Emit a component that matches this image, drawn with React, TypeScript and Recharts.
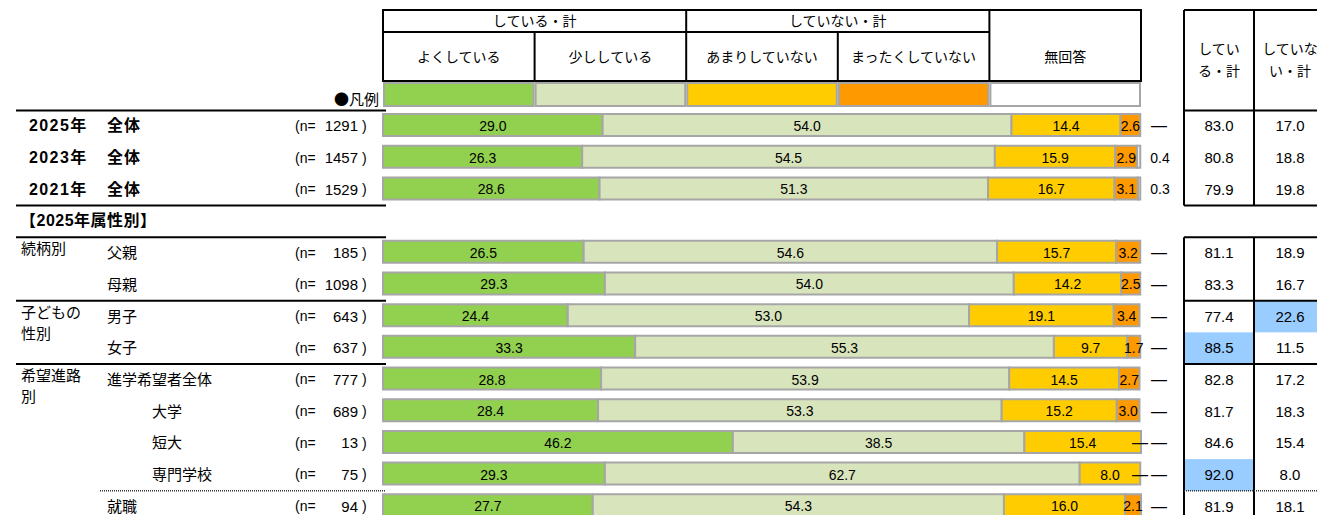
import React from "react";
import { Bar, BarChart, LabelList, XAxis, YAxis } from "recharts";

// rows: 3 overall years, a spacer row (section title), 9 attribute rows
const years = ["2025年", "2023年", "2021年", "", "", "", "", "", "", "", "", "", ""];
const subLabels = ["全体", "全体", "全体", "", "父親", "母親", "男子", "女子", "進学希望者全体", "大学", "短大", "専門学校", "就職"];
const indented = ["大学", "短大", "専門学校"];
const groupLabels: (string[] | null)[] = [null, null, null, null, ["続柄別"], null, ["子どもの", "性別"], null, ["希望進路", "別"], null, null, null, null];
const sectionTitle = "【2025年属性別】";
const sampleSizes = [1291, 1457, 1529, null, 185, 1098, 643, 637, 777, 689, 13, 75, 94];

const yoku = [29.0, 26.3, 28.6, null, 26.5, 29.3, 24.4, 33.3, 28.8, 28.4, 46.2, 29.3, 27.7];
const sukoshi = [54.0, 54.5, 51.3, null, 54.6, 54.0, 53.0, 55.3, 53.9, 53.3, 38.5, 62.7, 54.3];
const amari = [14.4, 15.9, 16.7, null, 15.7, 14.2, 19.1, 9.7, 14.5, 15.2, 15.4, 8.0, 16.0];
const mattaku = [2.6, 2.9, 3.1, null, 3.2, 2.5, 3.4, 1.7, 2.7, 3.0, 0, 0, 2.1];
const mukaitou = [0, 0.4, 0.3, null, 0, 0, 0, 0, 0, 0, 0, 0, 0];

const shiteiruTotal = [83.0, 80.8, 79.9, null, 81.1, 83.3, 77.4, 88.5, 82.8, 81.7, 84.6, 92.0, 81.9];
const shiteinaiTotal = [17.0, 18.8, 19.8, null, 18.9, 16.7, 22.6, 11.5, 17.2, 18.3, 15.4, 8.0, 18.1];
const hiShiteiru = ["女子", "専門学校"];
const hiShiteinai = ["男子"];

const seriesNames = ["よくしている", "少ししている", "あまりしていない", "まったくしていない", "無回答"];
const seriesKeys = ["yoku", "sukoshi", "amari", "mattaku", "mukaitou"];
const groupNames = ["している・計", "していない・計"];
const totalHeads = [["してい", "る・計"], ["していな", "い・計"]];

const COLORS = ["#92D050", "#D8E4BC", "#FFCC00", "#FF9900", "#FFFFFF"];
const BORDER = "#A6A6A6";
const HILITE = "#99CCFF";
const FONT = '"Liberation Sans", "Noto Sans CJK JP", sans-serif';

const W = 1317;
const H = 515;
const CHART_H = 521;
const TOP = 109;
const PL = 383;
const PR = 1141;
const PW = PR - PL;
const BAND = (CHART_H - TOP) / subLabels.length;
const rowTop = (i: number) => TOP + i * BAND + 1.5;
const colX = (i: number) => PL + (PW * i) / 5;
const T1 = 1184;
const T2 = 1254;

const data = subLabels.map((s, i) => ({
  id: String(i),
  yoku: yoku[i],
  sukoshi: sukoshi[i],
  amari: amari[i],
  mattaku: mattaku[i],
  mukaitou: mukaitou[i],
}));

function segLabel(p: any) {
  const { x, y, width, height, value } = p;
  if (value == null || value === 0) return null;
  return (
    <text x={x + width / 2} y={y + height / 2 + 1} textAnchor="middle" dominantBaseline="central" fontSize={14} fill="#000">
      {value.toFixed(1)}
    </text>
  );
}

function LeftTick({ y, payload }: any) {
  const i = Number(payload.value);
  const cy = y + 1;
  if (sampleSizes[i] == null) {
    return (
      <text x={20} y={cy} dominantBaseline="central" fontSize={16} fontWeight="bold" letterSpacing={0.5}>{sectionTitle}</text>
    );
  }
  const g = groupLabels[i];
  return (
    <g fontSize={15} fill="#000">
      {years[i] ? (
        <>
          <text x={29} y={cy} dominantBaseline="central" fontWeight="bold" fontSize={16} letterSpacing={1.4}>{years[i]}</text>
          <text x={107} y={cy} dominantBaseline="central" fontWeight="bold" fontSize={16} letterSpacing={1}>{subLabels[i]}</text>
        </>
      ) : (
        <text x={indented.includes(subLabels[i]) ? 152 : 107} y={cy} dominantBaseline="central">{subLabels[i]}</text>
      )}
      {g && g.map((t, k) => (
        <text key={k} x={21} y={cy - 4 + k * 21} dominantBaseline="central">{t}</text>
      ))}
      <text x={295} y={cy} dominantBaseline="central" fontSize={14}>(n=</text>
      <text x={358} y={cy} dominantBaseline="central" textAnchor="end" fontSize={15}>{sampleSizes[i]}</text>
      <text x={362} y={cy} dominantBaseline="central" fontSize={14}>)</text>
    </g>
  );
}

// right side: zero "まったく" marker at bar end, 無回答 value, and the totals table
function RightTick({ y, payload }: any) {
  const i = Number(payload.value);
  const a = shiteiruTotal[i];
  const b = shiteinaiTotal[i];
  const na = mukaitou[i];
  if (a == null || b == null || na == null) return null;
  const top = y - BAND / 2 + 1.5;
  const cy = y + 1;
  return (
    <g fontSize={15} fill="#000">
      {mattaku[i] === 0 && (
        <text x={PR - 1} y={cy} textAnchor="middle" dominantBaseline="central" fontSize={16}>—</text>
      )}
      {na === 0 ? (
        <text x={PR + 18} y={cy} textAnchor="middle" dominantBaseline="central" fontSize={16}>—</text>
      ) : (
        <text x={PR + 19} y={cy} textAnchor="middle" dominantBaseline="central" fontSize={14}>{na.toFixed(1)}</text>
      )}
      {hiShiteiru.includes(subLabels[i]) && <rect x={T1} y={top} width={T2 - T1} height={BAND} fill={HILITE} />}
      {hiShiteinai.includes(subLabels[i]) && <rect x={T2} y={top} width={70} height={BAND} fill={HILITE} />}
      <text x={(T1 + T2) / 2} y={cy} textAnchor="middle" dominantBaseline="central">{a.toFixed(1)}</text>
      <text x={T2 + 36} y={cy} textAnchor="middle" dominantBaseline="central">{b.toFixed(1)}</text>
    </g>
  );
}

function Overlay() {
  const solidRules = [0, 3, 4, 6, 8];
  const dottedRule = 12;
  return (
    <svg width={W} height={H} style={{ position: "absolute", left: 0, top: 0, pointerEvents: "none" }}>
      {/* column header */}
      <g stroke="#000" strokeWidth={2} fill="none">
        <rect x={PL} y={10} width={PW} height={71} />
        <line x1={PL} x2={colX(4)} y1={32} y2={32} />
        <line x1={colX(2)} x2={colX(2)} y1={10} y2={81} />
        <line x1={colX(4)} x2={colX(4)} y1={10} y2={81} />
        <line x1={colX(1)} x2={colX(1)} y1={32} y2={81} />
        <line x1={colX(3)} x2={colX(3)} y1={32} y2={81} />
      </g>
      <g fontSize={14} textAnchor="middle" dominantBaseline="central" fill="#000">
        <text x={(colX(0) + colX(2)) / 2} y={21}>{groupNames[0]}</text>
        <text x={(colX(2) + colX(4)) / 2} y={21}>{groupNames[1]}</text>
        {seriesNames.map((n, k) => (
          <text key={n} x={(colX(k) + colX(k + 1)) / 2} y={57}>{n}</text>
        ))}
      </g>
      {/* legend swatches */}
      {COLORS.map((c, k) => (
        <rect key={c} x={colX(k) + 1} y={83} width={PW / 5 - 2} height={23} fill={c} stroke={BORDER} strokeWidth={2} />
      ))}
      <text x={379} y={98} textAnchor="end" dominantBaseline="central" fontSize={15} fontFamily='"Noto Sans CJK JP", sans-serif'>●凡例</text>

      {/* left rules */}
      {solidRules.map((r) => (
        <line key={r} x1={16} x2={386} y1={rowTop(r)} y2={rowTop(r)} stroke="#000" strokeWidth={2} />
      ))}
      <line x1={100} x2={386} y1={rowTop(dottedRule)} y2={rowTop(dottedRule)} stroke="#333" strokeWidth={1.5} strokeDasharray="1 1" />

      {/* totals table */}
      <g stroke="#000" strokeWidth={2}>
        <line x1={T1} x2={T1} y1={10} y2={rowTop(3)} />
        <line x1={T2} x2={T2} y1={10} y2={rowTop(3)} />
        <line x1={T1} x2={W} y1={10} y2={10} />
        <line x1={T1} x2={W} y1={rowTop(0)} y2={rowTop(0)} />
        <line x1={T1} x2={W} y1={rowTop(3)} y2={rowTop(3)} />
        <line x1={T1} x2={T1} y1={rowTop(4)} y2={H} />
        <line x1={T2} x2={T2} y1={rowTop(4)} y2={H} />
        {[4, 6, 8].map((r) => (
          <line key={r} x1={T1} x2={W} y1={rowTop(r)} y2={rowTop(r)} />
        ))}
      </g>
      <line x1={T1} x2={W} y1={rowTop(dottedRule)} y2={rowTop(dottedRule)} stroke="#333" strokeWidth={1.5} strokeDasharray="1 1" />
      <g fontSize={14} textAnchor="middle" dominantBaseline="central" fill="#000">
        {totalHeads.map((lines, k) =>
          lines.map((t, j) => (
            <text key={`${k}-${j}`} x={k === 0 ? (T1 + T2) / 2 : T2 + 36} y={49 + j * 22}>{t}</text>
          ))
        )}
      </g>
    </svg>
  );
}

export default function App() {
  return (
    <div style={{ position: "absolute", left: 0, top: 0, width: W, height: H, overflow: "hidden", background: "#fff", fontFamily: FONT }}>
      <BarChart width={W} height={CHART_H} data={data} layout="vertical" margin={{ top: TOP, right: 0, bottom: 0, left: 0 }} barSize={22}>
        <XAxis type="number" domain={[0, 100]} hide />
        <YAxis yAxisId="left" type="category" dataKey="id" width={PL} tick={LeftTick} axisLine={false} tickLine={false} interval={0} />
        <YAxis yAxisId="right" orientation="right" type="category" dataKey="id" width={W - PR} tick={RightTick} axisLine={false} tickLine={false} interval={0} />
        {seriesKeys.map((k, idx) => (
          <Bar key={k} yAxisId="left" dataKey={k} stackId="a" fill={COLORS[idx]} stroke={BORDER} strokeWidth={2} isAnimationActive={false}>
            {idx < 4 && <LabelList dataKey={k} content={segLabel} />}
          </Bar>
        ))}
      </BarChart>
      <Overlay />
    </div>
  );
}
